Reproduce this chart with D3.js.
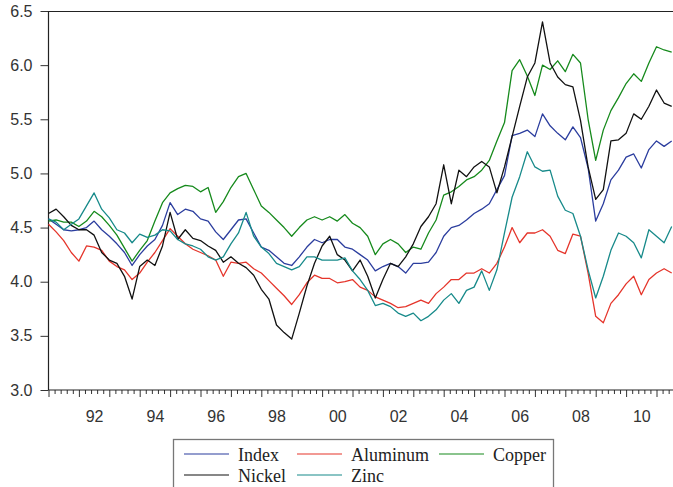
<!DOCTYPE html>
<html><head><meta charset="utf-8">
<script src="https://cdn.jsdelivr.net/npm/d3@7"></script>
<style>body{margin:0;background:#fff}svg{display:block}</style>
</head><body>
<svg id="c" width="673" height="487"></svg>
<script>
// Quarterly readings, 1991.00 .. 2011.50
const startYear = 1991;
const stepYears = 0.25;
const indexVals = [4.58,4.53,4.48,4.47,4.48,4.50,4.56,4.48,4.42,4.35,4.27,4.15,4.25,4.33,4.39,4.52,4.73,4.62,4.67,4.65,4.58,4.56,4.46,4.39,4.48,4.57,4.58,4.45,4.32,4.29,4.23,4.17,4.15,4.23,4.32,4.39,4.36,4.39,4.39,4.32,4.30,4.25,4.20,4.10,4.14,4.17,4.14,4.08,4.17,4.17,4.18,4.27,4.42,4.50,4.52,4.57,4.63,4.67,4.72,4.85,4.98,5.35,5.37,5.40,5.34,5.55,5.44,5.37,5.31,5.43,5.33,5.05,4.56,4.72,4.94,5.03,5.15,5.18,5.05,5.22,5.30,5.25,5.30];
const aluminumVals = [4.53,4.46,4.38,4.27,4.19,4.33,4.32,4.29,4.19,4.14,4.11,4.02,4.08,4.18,4.27,4.38,4.49,4.42,4.35,4.30,4.27,4.24,4.20,4.05,4.18,4.17,4.18,4.12,4.08,4.01,3.94,3.87,3.79,3.88,3.99,4.06,4.03,4.03,3.99,4.00,4.02,3.95,3.92,3.86,3.83,3.80,3.76,3.77,3.80,3.83,3.80,3.89,3.95,4.02,4.02,4.08,4.08,4.12,4.08,4.17,4.32,4.50,4.36,4.45,4.45,4.48,4.42,4.29,4.26,4.44,4.42,4.08,3.68,3.62,3.80,3.88,3.98,4.05,3.88,4.02,4.08,4.12,4.08];
const copperVals = [4.56,4.57,4.55,4.55,4.51,4.56,4.65,4.60,4.52,4.43,4.31,4.19,4.29,4.38,4.56,4.73,4.82,4.86,4.89,4.88,4.83,4.87,4.64,4.74,4.87,4.97,5.00,4.85,4.70,4.64,4.57,4.50,4.42,4.50,4.57,4.60,4.57,4.60,4.56,4.62,4.54,4.50,4.42,4.25,4.35,4.39,4.35,4.27,4.32,4.30,4.45,4.57,4.80,4.83,4.88,4.94,4.97,5.03,5.12,5.30,5.47,5.95,6.05,5.90,5.72,6.00,5.96,6.04,5.94,6.10,6.02,5.50,5.12,5.40,5.58,5.70,5.83,5.92,5.85,6.02,6.17,6.14,6.12];
const nickelVals = [4.63,4.67,4.60,4.52,4.48,4.48,4.43,4.27,4.20,4.17,4.05,3.84,4.14,4.20,4.15,4.33,4.64,4.39,4.48,4.40,4.38,4.33,4.29,4.18,4.23,4.17,4.13,4.06,3.93,3.84,3.60,3.53,3.47,3.71,3.96,4.17,4.33,4.42,4.25,4.20,4.10,4.20,4.05,3.85,4.02,4.17,4.14,4.23,4.35,4.51,4.60,4.72,5.08,4.72,5.03,4.97,5.06,5.11,5.06,4.82,5.06,5.34,5.62,5.89,6.02,6.40,6.02,5.89,5.82,5.80,5.49,5.06,4.76,4.85,5.30,5.31,5.37,5.55,5.50,5.62,5.77,5.65,5.62];
const zincVals = [4.58,4.55,4.48,4.53,4.58,4.70,4.82,4.67,4.59,4.48,4.45,4.36,4.44,4.41,4.43,4.48,4.47,4.39,4.35,4.33,4.30,4.23,4.20,4.23,4.35,4.45,4.64,4.42,4.32,4.26,4.17,4.14,4.11,4.14,4.23,4.23,4.20,4.20,4.20,4.22,4.10,4.02,3.92,3.78,3.80,3.77,3.71,3.68,3.71,3.64,3.68,3.74,3.83,3.89,3.80,3.92,3.95,4.10,3.92,4.11,4.45,4.78,4.97,5.20,5.06,5.02,5.03,4.79,4.66,4.63,4.42,4.11,3.85,4.05,4.29,4.45,4.42,4.36,4.22,4.48,4.42,4.36,4.51];
const seriesNames = ["Index","Aluminum","Copper","Nickel","Zinc"];
const seriesColors = ["#2b3d9e","#e5352b","#168a1c","#111111","#178a8a"];
const yTickVals = [3.0,3.5,4.0,4.5,5.0,5.5,6.0,6.5];
const xLabelYears = [1992,1994,1996,1998,2000,2002,2004,2006,2008,2010];

const allVals = [indexVals, aluminumVals, copperVals, nickelVals, zincVals];
const dates = indexVals.map((_, i) => startYear + i * stepYears);

const svg = d3.select("#c");
const x = d3.scaleLinear().domain([1991, 2011.5]).range([48.5, 671.7]);
const y = d3.scaleLinear().domain([3, 6.5]).range([390, 11]);

// frame line (top)
svg.append("line").attr("x1",48.5).attr("x2",680).attr("y1",11.5).attr("y2",11.5).attr("stroke","#222").attr("stroke-width",1.2);

// y axis
const yAx = svg.append("g").attr("transform","translate(48.5,0)")
  .call(d3.axisLeft(y).tickValues(yTickVals).tickFormat(d3.format(".1f")).tickSize(8).tickPadding(8));
yAx.select(".domain").remove();
yAx.selectAll(".tick line").attr("stroke","#444");
yAx.selectAll("text").attr("font-family","'Liberation Sans', Arial, sans-serif").attr("font-size",16).attr("fill","#333");
svg.append("line").attr("x1",48.5).attr("x2",48.5).attr("y1",11).attr("y2",390).attr("stroke","#222").attr("stroke-width",1.2);

// x axis
const years = d3.range(1991, 2012);
const minor = d3.range(1991, 2011.6, 0.2).filter(v => Math.abs(v - Math.round(v)) > 0.01);
const xMinor = svg.append("g").attr("transform","translate(0,390)")
  .call(d3.axisBottom(x).tickValues(minor).tickSize(4).tickFormat(""));
xMinor.select(".domain").remove();
const xMaj = svg.append("g").attr("transform","translate(0,390)")
  .call(d3.axisBottom(x).tickValues(years).tickSize(7).tickFormat(""));
xMaj.select(".domain").remove();
svg.selectAll(".tick line").attr("stroke","#333");
const xLab = svg.append("g").attr("transform","translate(0,390)")
  .call(d3.axisBottom(x).tickValues(xLabelYears.map(v => v + 0.5)).tickSize(0).tickPadding(21)
    .tickFormat(d => String(Math.floor(d) % 100).padStart(2, "0")));
xLab.select(".domain").remove();
xLab.selectAll("text").attr("font-family","'Liberation Sans', Arial, sans-serif").attr("font-size",16).attr("fill","#333");
svg.append("line").attr("x1",48.5).attr("x2",680).attr("y1",390).attr("y2",390).attr("stroke","#222").attr("stroke-width",1.2);

// series
const line = d3.line().x((d, i) => x(dates[i])).y(d => y(d));
allVals.forEach((vals, k) => {
  svg.append("path").datum(vals).attr("d", line)
    .attr("fill","none").attr("stroke", seriesColors[k]).attr("stroke-width",1.3)
    .attr("stroke-linejoin","round");
});

// legend
const lg = svg.append("g");
lg.append("rect").attr("x",173.5).attr("y",439.5).attr("width",380).attr("height",60)
  .attr("fill","#fff").attr("stroke","#777").attr("stroke-width",1.3);
const legendPos = [
  {lx:184, tx:238, y:454},
  {lx:297, tx:351, y:454},
  {lx:439, tx:493, y:454},
  {lx:184, tx:238, y:475},
  {lx:297, tx:351, y:475}
];
seriesNames.forEach((name, k) => {
  const p = legendPos[k];
  lg.append("line").attr("x1",p.lx).attr("x2",p.lx+45).attr("y1",p.y).attr("y2",p.y)
    .attr("stroke",seriesColors[k]).attr("stroke-width",1.2);
  lg.append("text").attr("x",p.tx).attr("y",p.y+7).text(name)
    .attr("font-family","'Liberation Serif', 'Times New Roman', serif").attr("font-size",18).attr("fill","#222");
});
</script>
</body></html>
